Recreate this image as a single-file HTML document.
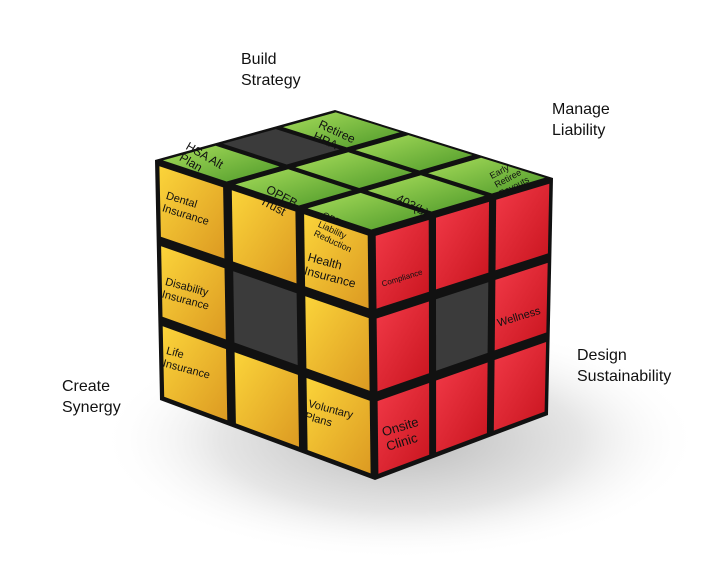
<!DOCTYPE html>
<html><head><meta charset="utf-8"><style>
html,body{margin:0;padding:0;background:#fff;}
body{width:727px;height:566px;position:relative;overflow:hidden;font-family:"Liberation Sans","DejaVu Sans",sans-serif;}
.h{position:absolute;font-size:16px;line-height:21px;color:#111;}
.l{position:absolute;font-size:12px;line-height:13px;color:#111;white-space:nowrap;transform-origin:0 0;}
</style></head><body>
<svg id="s" width="727" height="566" style="position:absolute;left:0;top:0">
<defs>
<radialGradient id="sh" cx="0.5" cy="0.5" r="0.5"><stop offset="0" stop-color="#bbb"/><stop offset="0.6" stop-color="#e6e6e6"/><stop offset="1" stop-color="#fff" stop-opacity="0"/></radialGradient>
<linearGradient id="y" x1="0" y1="0" x2="1" y2="1"><stop offset="0" stop-color="#fbd43a"/><stop offset="1" stop-color="#dc9a22"/></linearGradient>
<linearGradient id="r" x1="0" y1="0" x2="1" y2="1"><stop offset="0" stop-color="#f23a48"/><stop offset="1" stop-color="#c8141e"/></linearGradient>
<linearGradient id="g" x1="0" y1="0" x2="1" y2="1"><stop offset="0" stop-color="#a6dc5a"/><stop offset="1" stop-color="#4f9a2a"/></linearGradient>
</defs>
<ellipse cx="400" cy="440" rx="300" ry="120" fill="url(#sh)"/>
<polygon points="335,110 155,160 160,400 375,480 548,415 553,178" fill="#111"/>
<g id="cells"></g>
</svg>
<div class="h" style="left:241px;top:49px">Build<br>Strategy</div>
<div class="h" style="left:552px;top:99px">Manage<br>Liability</div>
<div class="h" style="left:577px;top:345px">Design<br>Sustainability</div>
<div class="h" style="left:62px;top:376px">Create<br>Synergy</div>

<div class="l" style="left:168px;top:190px;transform:rotate(17deg);font-size:11px">Dental<br>Insurance</div>
<div class="l" style="left:310px;top:250px;transform:rotate(15deg);font-size:12px;line-height:14px">Health<br>Insurance</div>
<div class="l" style="left:167px;top:276px;transform:rotate(15deg);font-size:11px">Disability<br>Insurance</div>
<div class="l" style="left:168px;top:345px;transform:rotate(15deg);font-size:11px">Life<br>Insurance</div>
<div class="l" style="left:310px;top:398px;transform:rotate(15deg);font-size:11px">Voluntary<br>Plans</div>
<div class="l" style="left:380px;top:425px;transform:rotate(-17deg);font-size:13px;line-height:15px">Onsite<br>Clinic</div>
<div class="l" style="left:380px;top:278px;transform:rotate(-17deg);font-size:8px">Compliance</div>
<div class="l" style="left:496px;top:318px;transform:rotate(-17deg);font-size:11px">Wellness</div>
<div class="l" style="left:190px;top:140px;transform:rotate(30deg)">HSA Alt<br>Plan</div>
<div class="l" style="left:322px;top:118px;transform:rotate(25deg)">Retiree<br>HRA</div>
<div class="l" style="left:270px;top:183px;transform:rotate(28deg)">OPEB<br>Trust</div>
<div class="l" style="left:400px;top:192px;transform:rotate(28deg)">403(b)</div>
<div class="l" style="left:325px;top:210px;transform:rotate(25deg);font-size:9px;line-height:10px">OPEB<br>Liability<br>Reduction</div>
<div class="l" style="left:488px;top:172px;transform:rotate(-28deg);font-size:9px;line-height:10px">Early<br>Retiree<br>Payouts</div>
<script>
(function(){
var g=document.getElementById('cells');
function L(a,b,t){return [a[0]+(b[0]-a[0])*t,a[1]+(b[1]-a[1])*t];}
function P(f,u,v){var top=L(f[0],f[1],u),bot=L(f[3],f[2],u);return L(top,bot,v);}
function face(f,fill,dark){
 for(var i=0;i<3;i++)for(var j=0;j<3;j++){
  var gp=0.02,u0=i/3+gp,u1=(i+1)/3-gp,v0=j/3+gp,v1=(j+1)/3-gp;
  var pts=[P(f,u0,v0),P(f,u1,v0),P(f,u1,v1),P(f,u0,v1)];
  var p=document.createElementNS('http://www.w3.org/2000/svg','polygon');
  p.setAttribute('points',pts.map(function(q){return q[0].toFixed(1)+','+q[1].toFixed(1)}).join(' '));
  p.setAttribute('fill',dark.indexOf(i+','+j)>=0?'#3b3b3b':fill);
  g.appendChild(p);
 }}
face([[155,160],[372,232],[375,480],[160,400]],'url(#y)',['1,1']);
face([[372,232],[553,178],[548,415],[375,480]],'url(#r)',['1,1']);
face([[335,110],[553,178],[372,232],[155,160]],'url(#g)',['0,1']);
})();
</script>
</body></html>
